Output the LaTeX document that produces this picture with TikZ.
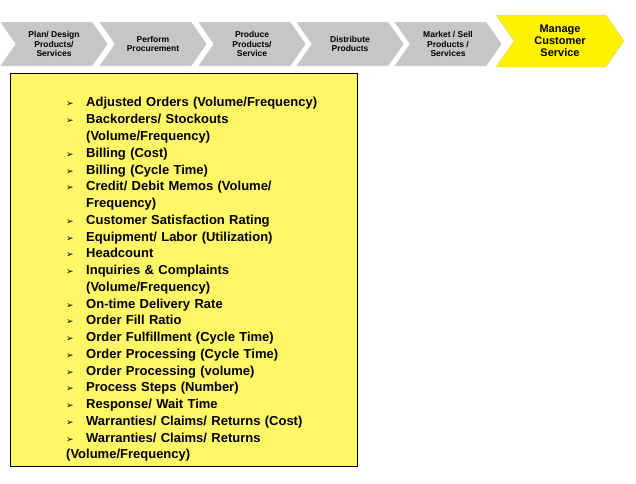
\documentclass[tikz,border=0pt]{standalone}
\usepackage{fontspec}
\setmainfont{Liberation Sans}
\newfontfamily\arrowfont{DejaVu Sans}
\usetikzlibrary{shapes.symbols}
\tikzset{step box/.style={signal,signal from=west,signal to=east,signal pointer angle=110,
  fill=gray!45,draw=white,minimum width=108pt,minimum height=44pt,inner sep=1pt,
  align=center,font=\bfseries\fontsize{8.5}{9.5}\selectfont}}
\tikzset{now box/.style={step box,fill=yellow,draw=yellow!70!black!60,minimum width=128pt,
  minimum height=52pt,font=\bfseries\fontsize{11}{12}\selectfont}}
\newcommand{\entry}[1]{\par\hangindent=20pt\hangafter=1\makebox[20pt][l]{\arrowfont\small ➢}#1}
\begin{document}
\begin{tikzpicture}[x=1pt,y=-1pt]
  \useasboundingbox (0,0) rectangle (636,483);
  \node[step box] (plan) at (54,44) {Plan/ Design\\Products/\\Services};
  \node[step box] (proc) at (153,44) {Perform\\Procurement};
  \node[step box] (prod) at (252,44) {Produce\\Products/\\Service};
  \node[step box] (dist) at (350,44) {Distribute\\Products};
  \node[step box] (mark) at (448,44) {Market / Sell\\Products /\\Services};
  \node[now box] (serv) at (560,41) {Manage\\Customer\\Service};
  \draw[fill=yellow!60,draw=black] (10,73) rectangle (357,466);
  \node[anchor=north west,text width=290pt,align=left,inner sep=0pt,
    font=\bfseries\fontsize{13}{16.76}\selectfont] (list) at (66,90) {%
    \entry{Adjusted Orders (Volume/Frequency)}
    \entry{Backorders/ Stockouts\newline(Volume/Frequency)}
    \entry{Billing (Cost)}
    \entry{Billing (Cycle Time)}
    \entry{Credit/ Debit Memos (Volume/\newline Frequency)}
    \entry{Customer Satisfaction Rating}
    \entry{Equipment/ Labor (Utilization)}
    \entry{Headcount}
    \entry{Inquiries \& Complaints\newline(Volume/Frequency)}
    \entry{On-time Delivery Rate}
    \entry{Order Fill Ratio}
    \entry{Order Fulfillment (Cycle Time)}
    \entry{Order Processing (Cycle Time)}
    \entry{Order Processing (volume)}
    \entry{Process Steps (Number)}
    \entry{Response/ Wait Time}
    \entry{Warranties/ Claims/ Returns (Cost)}
    \entry{Warranties/ Claims/ Returns\newline(Volume/Frequency)}};
\end{tikzpicture}
\end{document}
